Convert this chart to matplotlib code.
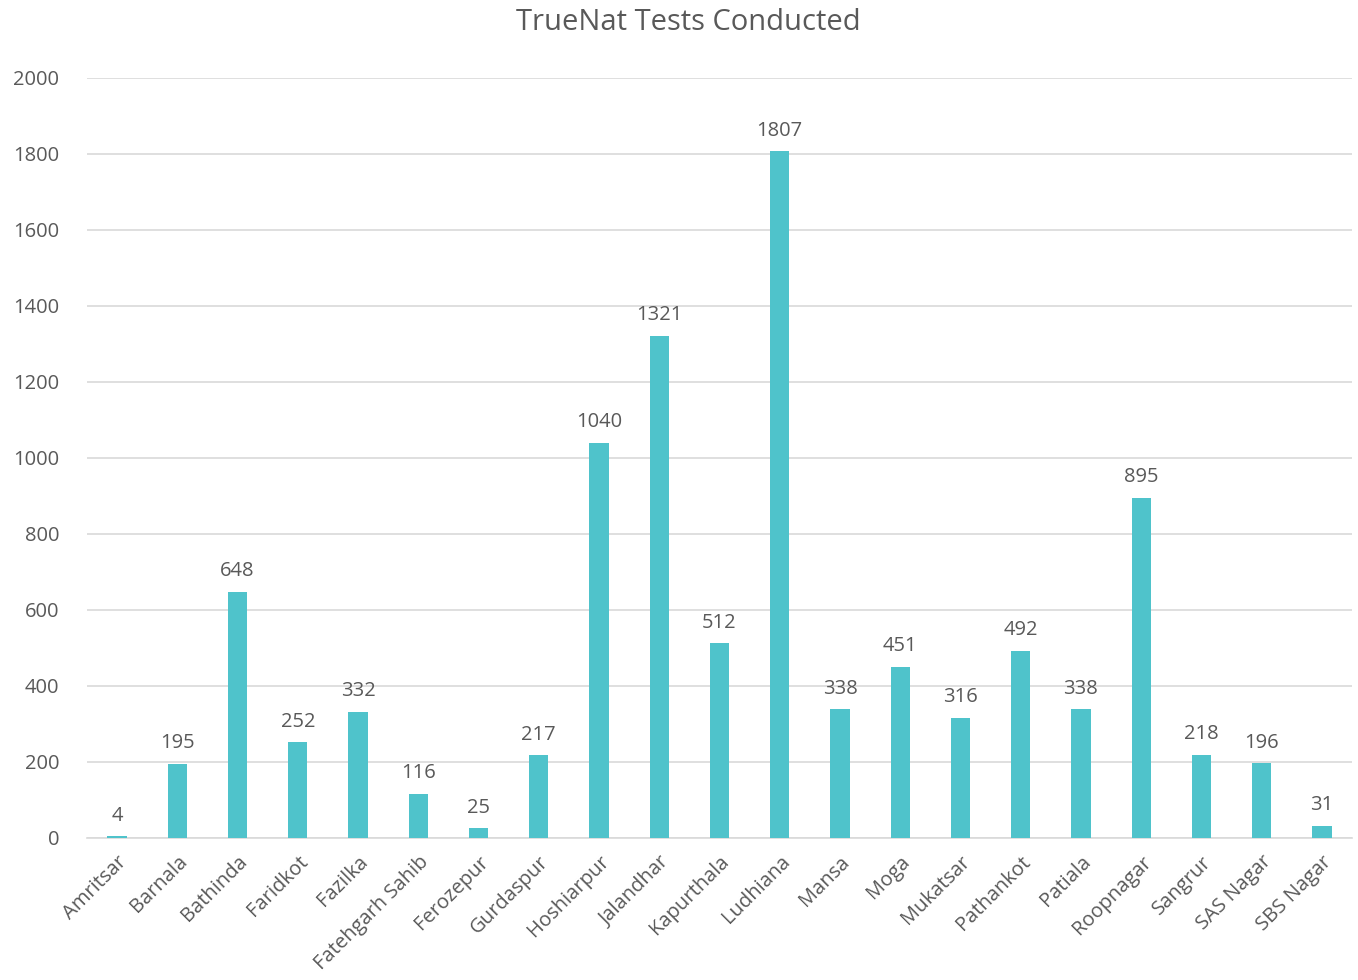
import matplotlib
matplotlib.use("Agg")
import matplotlib.pyplot as plt

districts = ["Amritsar", "Barnala", "Bathinda", "Faridkot", "Fazilka", "Fatehgarh Sahib",
             "Ferozepur", "Gurdaspur", "Hoshiarpur", "Jalandhar", "Kapurthala", "Ludhiana",
             "Mansa", "Moga", "Mukatsar", "Pathankot", "Patiala", "Roopnagar", "Sangrur",
             "SAS Nagar", "SBS Nagar"]
tests = [4, 195, 648, 252, 332, 116, 25, 217, 1040, 1321, 512, 1807,
         338, 451, 316, 492, 338, 895, 218, 196, 31]

plt.rcParams['font.family'] = ['Open Sans', 'DejaVu Sans']
txt = "#595959"

fig = plt.figure(figsize=(13.58, 9.8), dpi=100)
ax = fig.add_axes([0.064, 0.145, 0.9316, 0.7755])

x = range(len(districts))
bars = ax.bar(x, tests, width=0.32, color="#4FC3CB", zorder=3)
for xi, v in zip(x, tests):
    ax.text(xi, v + 28, str(v), ha="center", va="bottom", fontsize=14.5, color=txt)

ax.set_xlim(-0.5, len(districts) - 0.5)
ax.set_ylim(0, 2000)
ax.set_yticks(range(0, 2001, 200))
ax.grid(axis="y", color="#D9D9D9", linewidth=1.2, zorder=0)
ax.set_xticks(list(x))
ax.set_xticklabels(districts, rotation=45, ha="right", rotation_mode="anchor")
ax.tick_params(length=0, labelsize=14.5, colors=txt)
ax.tick_params(axis="x", pad=10)
ax.tick_params(axis="y", pad=20)
for s in ["top", "right", "left"]:
    ax.spines[s].set_visible(False)
ax.spines["bottom"].set_color("#D9D9D9")
ax.spines["bottom"].set_linewidth(1.2)

fig.text(0.507, 0.977, "TrueNat Tests Conducted", ha="center", va="center",
         fontsize=21, color=txt)

fig.savefig("out.png", dpi=100)
